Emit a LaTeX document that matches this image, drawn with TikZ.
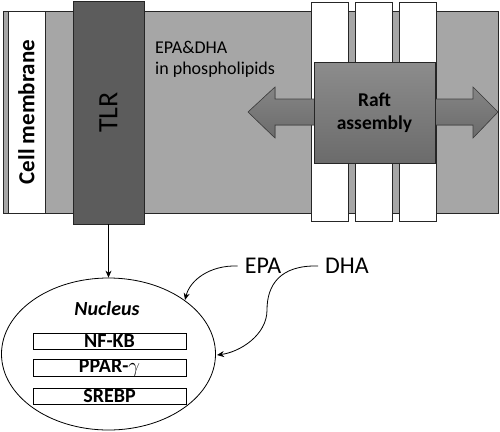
\documentclass[tikz,border=0pt]{standalone}
\usepackage{fontspec}
\setmainfont{Carlito}
\usetikzlibrary{arrows.meta,positioning,shapes.geometric,calc}
\definecolor{membr}{HTML}{A6A6A6}
\definecolor{tlrgray}{HTML}{5C5C5C}
\tikzset{
  part/.style={draw=black!85,line width=0.8pt,inner sep=0pt},
  raft/.style={part,fill=white,minimum width=37pt,minimum height=219pt},
  gene/.style={draw,line width=0.8pt,minimum width=153pt,minimum height=16pt,inner sep=0pt,font=\fontsize{20}{20}\selectfont\bfseries},
  lbl/.style={font=\fontsize{24}{24}\selectfont,inner sep=0pt},
  arr/.style={-{Stealth[length=7pt,width=6pt]},line width=0.8pt},
}
\begin{document}
\begin{tikzpicture}[x=1pt,y=-1pt]
\useasboundingbox (0,0) rectangle (500,431);
% membrane
\node[part,fill=membr,minimum width=495pt,minimum height=202pt] (mem) at (250.5,112) {};
\node[part,fill=white,minimum width=37pt,minimum height=202pt] (cm) at (26.5,112) {};
\node[rotate=90,font=\fontsize{23}{23}\selectfont\bfseries] at (cm) {Cell membrane};
\node[part,fill=tlrgray,minimum width=71pt,minimum height=223pt] (tlr) at (108.5,112.5) {};
\node[rotate=90,font=\fontsize{28}{28}\selectfont,inner sep=0pt] at (tlr) {TLR};
\node[anchor=north west,align=left,font=\fontsize{18}{21}\selectfont,inner sep=0pt] (pl) at (155,41) {EPA\&DHA\\in phospholipids};
% rafts
\foreach \i/\x in {1/329.5,2/373.5,3/418}
  \node[raft] (r\i) at (\x,111.5) {};
\fill[top color=black!48,bottom color=black!58,draw=black!75,line width=0.6pt]
  (248,112) -- (275,87) -- (275,99) -- (473,99) -- (473,87) -- (498,112)
  -- (473,138) -- (473,125) -- (275,125) -- (275,138) -- cycle;
\node[part,top color=black!45,bottom color=black!58,minimum width=121pt,minimum height=101pt,
  align=center,font=\fontsize{19.5}{23}\selectfont\bfseries] (raft) at (374.5,112.5) {Raft\\assembly};
% nucleus
\node[draw,ellipse,line width=0.8pt,minimum width=214pt,minimum height=152pt,inner sep=0pt] (nuc) at (108.5,354) {};
\node[font=\fontsize{20}{20}\selectfont\bfseries\itshape] (nl) at (107,309) {Nucleus};
\node[gene] (nf) at (109.5,341) {NF-KB};
\node[gene] (ppar) at (109.5,368) {PPAR-\textmd{$\gamma$}};
\node[gene] (srebp) at (109.5,396) {SREBP};
\node[lbl] (epa) at (263,266) {EPA};
\node[lbl] (dha) at (347,266) {DHA};
\draw[arr] (tlr) -- (nuc);
\draw[arr] (epa.west) ++(-7,0) coordinate (e0) .. controls (210,265) and (190,280) .. (185,300);
\draw[arr] (dha.west) ++(-7,0) coordinate (d0) .. controls (280,265) and (267,285) .. (267,310)
  .. controls (267,335) and (240,352) .. (217,355);
\end{tikzpicture}
\end{document}
